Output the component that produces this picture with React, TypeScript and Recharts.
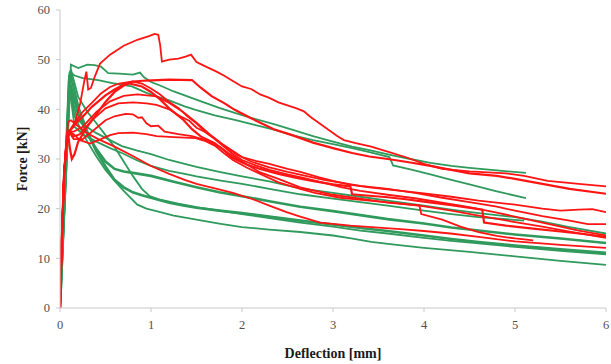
import React from 'react';
import { LineChart, Line, XAxis, YAxis } from 'recharts';

type P = [number, number];

const xTicks = [0, 1, 2, 3, 4, 5, 6];
const yTicks = [0, 10, 20, 30, 40, 50, 60];

const redStart: P[] = [[0, 0], [0.02, 14], [0.045, 27], [0.07, 33], [0.1, 35.5]];

const R1: P[] = [...redStart, [0.15, 36.5], [0.22, 41], [0.27, 46], [0.29, 47.6], [0.31, 44], [0.34, 44.3], [0.38, 46.5], [0.44, 49.2], [0.55, 51], [0.7, 52.8], [0.85, 54], [0.97, 54.7], [1.04, 55.2], [1.08, 55], [1.1, 53], [1.12, 49.6], [1.2, 50], [1.3, 50.2], [1.38, 50.6], [1.44, 51], [1.5, 49.5], [1.58, 48.8], [1.65, 48.2], [1.72, 47.6], [1.8, 46.8], [1.9, 45.7], [2.0, 44.6], [2.1, 44.1], [2.2, 43], [2.3, 42.3], [2.4, 41.4], [2.5, 40.8], [2.6, 40.2], [2.68, 39.6], [2.75, 38.5], [2.85, 37.2], [2.95, 35.9], [3.05, 34.6], [3.12, 33.8], [3.25, 33.2], [3.42, 32.5], [3.6, 31.5], [3.81, 30.3], [4.0, 29], [4.2, 28], [4.5, 27.5], [4.9, 27.1], [5.1, 26.6], [5.36, 25.6], [5.7, 25], [6, 24.5]];

const R2: P[] = [...redStart, [0.15, 36.8], [0.25, 38.5], [0.35, 40.5], [0.5, 42.8], [0.6, 44], [0.7, 45], [0.8, 45.6], [0.95, 45.8], [1.2, 46], [1.45, 45.9], [1.55, 44.3], [1.67, 42.6], [1.8, 41.3], [1.92, 39.9], [2.1, 38.2], [2.35, 36], [2.55, 34.8], [2.78, 33.3], [3.0, 32.2], [3.21, 31.2], [3.4, 30.5], [3.64, 29.9], [3.85, 29.3], [4.07, 28.6], [4.3, 27.8], [4.5, 27.1], [4.8, 26.6], [5.0, 26], [5.3, 25], [5.6, 24], [6, 23]];

const Ra: P[] = [...redStart, [0.15, 37], [0.25, 39.5], [0.35, 41.3], [0.45, 43.2], [0.55, 44.5], [0.65, 45.2], [0.8, 45.6], [0.9, 45.2], [1.0, 44.2], [1.1, 43], [1.2, 41.5], [1.3, 40.3], [1.4, 38.6], [1.5, 37.2], [1.6, 35.4], [1.7, 34.2], [1.8, 32.8], [1.9, 31.6], [2.0, 30.4], [2.15, 29.6], [2.3, 29], [2.5, 28], [2.64, 27.4], [2.85, 26.3], [3.0, 25.6], [3.2, 24.8], [3.4, 24.3], [3.6, 23.9], [3.8, 23.5], [4.0, 23.1], [4.3, 22.4], [4.6, 21.6], [5.0, 20.8], [5.3, 20], [5.5, 19.6], [5.7, 19.8], [5.85, 19.9], [6, 19.3]];

const Rb: P[] = [[0, 0], [0.02, 14], [0.045, 27], [0.07, 33], [0.09, 35], [0.11, 32], [0.13, 30], [0.16, 31], [0.2, 33.5], [0.3, 36.5], [0.4, 39], [0.5, 41.5], [0.6, 43.5], [0.7, 44.8], [0.76, 45.2], [0.9, 44.6], [1.0, 43.5], [1.1, 42], [1.2, 40.2], [1.35, 38], [1.45, 36], [1.55, 34.5], [1.7, 33.2], [1.8, 31.8], [1.9, 30.2], [2.05, 28.9], [2.2, 28], [2.4, 27], [2.6, 26.2], [2.8, 25.5], [3.0, 24.9], [3.19, 24.5], [3.21, 22.9], [3.4, 22.6], [3.6, 22.3], [3.8, 21.9], [4.0, 21.4], [4.3, 20.7], [4.64, 19.8], [4.66, 17.2], [4.9, 16.6], [5.2, 16], [5.5, 15.4], [5.8, 14.8], [6, 14.3]];

const Rc: P[] = [...redStart, [0.15, 35.5], [0.25, 36.5], [0.4, 39.5], [0.55, 41.6], [0.7, 42.7], [0.85, 43], [1.06, 42.6], [1.2, 41.3], [1.35, 39.5], [1.5, 37.3], [1.65, 34.9], [1.8, 32.7], [1.95, 30.8], [2.1, 29.5], [2.3, 28.3], [2.5, 27.4], [2.7, 26.6], [2.9, 25.8], [3.1, 25.2], [3.3, 24.6], [3.6, 24], [3.9, 23.2], [4.2, 22.2], [4.5, 21.3], [4.8, 20.4], [5.0, 19.6], [5.3, 18.5], [5.6, 17.6], [5.8, 16.9], [6, 16.9]];

const Rd: P[] = [...redStart, [0.15, 34.5], [0.22, 35], [0.35, 37.8], [0.5, 40.2], [0.64, 41.2], [0.8, 41.4], [0.95, 41.2], [1.06, 40.9], [1.2, 40], [1.3, 38.8], [1.42, 37.7], [1.5, 36.3], [1.6, 35.4], [1.7, 34], [1.8, 32.5], [1.9, 31], [2.0, 29.8], [2.15, 28.7], [2.3, 27.8], [2.5, 26.9], [2.7, 26.1], [2.9, 25.2], [3.1, 24.3], [3.3, 23.6], [3.6, 22.8], [3.9, 22.1], [4.2, 21.2], [4.5, 20.3], [4.8, 19.2], [5.1, 18], [5.4, 16.8], [5.7, 15.6], [6, 14.6]];

const Re: P[] = [...redStart, [0.15, 34], [0.25, 34], [0.35, 35.5], [0.5, 37.8], [0.6, 38.6], [0.72, 39.1], [0.8, 39], [0.86, 38.3], [0.9, 38.4], [0.95, 37.2], [1.0, 36.6], [1.08, 36.7], [1.15, 35.5], [1.3, 35], [1.45, 34.6], [1.6, 33.8], [1.75, 32.5], [1.85, 31.2], [2.0, 29.5], [2.2, 27.3], [2.4, 26], [2.64, 24.3], [3.0, 22.8], [3.3, 22], [3.6, 21.2], [3.95, 20.6], [4.3, 19.6], [4.6, 18.6], [5.0, 17.3], [5.3, 16.4], [5.6, 15.4], [6, 14.1]];

const Rlow: P[] = [...redStart, [0.15, 35], [0.22, 33.8], [0.33, 33.1], [0.45, 34], [0.55, 34.8], [0.64, 35.2], [0.8, 35.3], [0.95, 35], [1.06, 34.6], [1.25, 34.4], [1.49, 34.2], [1.6, 33.6], [1.7, 32.7], [1.8, 31.2], [1.9, 29.8], [2.05, 28.3], [2.2, 27], [2.4, 25.3], [2.64, 24], [2.8, 23.2], [3.08, 22.2], [3.4, 21.6], [3.7, 21.1], [3.95, 20.6], [3.97, 18.9], [4.2, 17.8], [4.4, 16.4], [4.6, 15.3], [4.8, 14.5], [5.0, 14], [5.2, 13.6]];

const Rdesc: P[] = [[0, 0], [0.02, 14], [0.045, 27], [0.07, 34], [0.09, 37.5], [0.12, 37.8], [0.2, 36.6], [0.3, 35.2], [0.42, 34], [0.6, 32.5], [0.8, 30.6], [1.0, 28.6], [1.2, 27], [1.37, 25.8], [1.5, 25], [1.68, 24.2], [1.9, 23.2], [2.12, 21.9], [2.3, 20.6], [2.49, 19.3], [2.64, 18.4], [2.86, 17.2], [3.19, 16.6], [3.5, 16.2], [3.74, 15.9], [4.0, 15.5], [4.29, 15], [4.6, 14.3], [5.0, 13.4], [5.5, 12.7], [6, 12.1]];

const G1: P[] = [[0, 0], [0.12, 49], [0.2, 48.3], [0.3, 49], [0.38, 48.9], [0.45, 48.6], [0.53, 47.3], [0.65, 47.2], [0.8, 47], [0.88, 47.4], [0.92, 46.5], [1.0, 45.5], [1.1, 44.8], [1.25, 43.6], [1.4, 42.6], [1.55, 41.6], [1.75, 40.3], [1.92, 39.3], [2.1, 38.3], [2.35, 37], [2.55, 35.9], [2.78, 34.6], [3.0, 33.5], [3.21, 32.5], [3.4, 31.8], [3.64, 30.8], [3.85, 30], [4.07, 29.2], [4.3, 28.6], [4.5, 28.2], [4.8, 27.7], [5.12, 27.2]];

const G2: P[] = [[0, 0], [0.11, 47.5], [0.16, 46.8], [0.25, 46.3], [0.42, 45.9], [0.6, 45.2], [0.79, 44.6], [0.95, 43.3], [1.06, 42.6], [1.2, 41.8], [1.37, 40.6], [1.49, 39.9], [1.7, 38.8], [1.92, 37.9], [2.15, 36.8], [2.35, 35.9], [2.55, 34.8], [2.78, 33.8], [3.0, 33], [3.21, 32.2], [3.4, 31.4], [3.62, 30.4], [3.66, 28.7], [3.85, 27.9], [4.07, 26.9], [4.3, 25.8], [4.5, 24.9], [4.8, 23.5], [5.12, 22.1]];

const G3: P[] = [[0, 0], [0.1, 47], [0.13, 42], [0.16, 38.5], [0.25, 37], [0.4, 35.2], [0.55, 33.8], [0.68, 32.6], [0.85, 31.7], [1, 31], [1.2, 29.8], [1.37, 29], [1.5, 28.4], [1.75, 27.4], [2, 26.5], [2.3, 25.5], [2.64, 24.1], [3, 23.2], [3.3, 22.4], [3.6, 21.6], [4, 20.6], [4.3, 19.8], [4.6, 19.1], [5, 18.3], [5.3, 17.4], [5.6, 16.3], [6, 15]];

const G4: P[] = [[0, 0], [0.1, 45], [0.16, 36.5], [0.25, 35], [0.4, 33.5], [0.55, 32.2], [0.68, 31.2], [0.85, 29.7], [1, 28.6], [1.2, 27.6], [1.37, 27], [1.5, 26.5], [1.75, 25.7], [2, 25], [2.3, 24], [2.64, 22.9], [3, 22], [3.3, 21.3], [3.6, 20.6], [4, 19.6], [4.3, 18.9], [4.6, 18.3], [5.1, 17.6]];

const G5: P[] = [[0, 0], [0.1, 46], [0.2, 39], [0.3, 35], [0.4, 32], [0.5, 29.5], [0.6, 28], [0.7, 27.5], [0.8, 27.2], [1, 26.6], [1.25, 25.4], [1.5, 24.3], [1.75, 23.3], [2, 22.5], [2.3, 21.5], [2.64, 20.4], [3, 19.5], [3.3, 18.7], [3.6, 17.9], [4, 17], [4.3, 16.2], [4.6, 15.6], [5, 14.8], [5.5, 14], [6, 13.1]];

const G6: P[] = [[0, 0], [0.11, 47.5], [0.2, 40.5], [0.3, 35.5], [0.4, 31.5], [0.5, 28.5], [0.6, 25.8], [0.7, 24.3], [0.8, 23.3], [0.9, 22.7], [1, 22.2], [1.2, 21.2], [1.37, 20.6], [1.5, 20.2], [1.75, 19.6], [2, 19.1], [2.3, 18.4], [2.64, 17.6], [3, 16.8], [3.3, 16.1], [3.6, 15.5], [4, 14.6], [4.3, 13.9], [4.6, 13.3], [5, 12.6], [5.5, 11.8], [6, 11.1]];

const G7: P[] = [[0, 0], [0.12, 48], [0.2, 42.5], [0.3, 39.5], [0.4, 37.2], [0.5, 34.8], [0.6, 32.4], [0.7, 29.5], [0.8, 26.6], [0.9, 24], [0.98, 22.6], [1.1, 21.8], [1.3, 21], [1.5, 20.3], [1.75, 19.6], [2, 18.9], [2.3, 18.1], [2.64, 17.2], [3, 16.4], [3.3, 15.6], [3.6, 15], [4, 14.1], [4.3, 13.5], [4.6, 13], [5, 12.3], [5.5, 11.5], [6, 10.8]];

const G8: P[] = [[0, 0], [0.1, 46], [0.15, 41], [0.2, 37], [0.3, 33.5], [0.4, 30.5], [0.5, 27.8], [0.6, 25.6], [0.7, 23.6], [0.85, 20.8], [0.95, 20], [1.06, 19.5], [1.25, 18.6], [1.5, 17.8], [1.75, 17], [2, 16.3], [2.3, 15.8], [2.64, 15.3], [3, 14.6], [3.2, 14], [3.42, 13.3], [3.7, 12.7], [4, 12.1], [4.5, 11.3], [5, 10.4], [5.5, 9.5], [6, 8.7]];

const greenSeries: { name: string; pts: P[]; w: number }[] = [
  { name: 'G1', pts: G1, w: 1.8 },
  { name: 'G2', pts: G2, w: 1.8 },
  { name: 'G3', pts: G3, w: 1.8 },
  { name: 'G4', pts: G4, w: 1.8 },
  { name: 'G5', pts: G5, w: 2.6 },
  { name: 'G6', pts: G6, w: 2.6 },
  { name: 'G7', pts: G7, w: 1.8 },
  { name: 'G8', pts: G8, w: 1.8 },
];

const redSeries: { name: string; pts: P[]; w: number }[] = [
  { name: 'R1', pts: R1, w: 1.8 },
  { name: 'R2', pts: R2, w: 2.2 },
  { name: 'Ra', pts: Ra, w: 1.8 },
  { name: 'Rb', pts: Rb, w: 2.2 },
  { name: 'Rc', pts: Rc, w: 1.8 },
  { name: 'Rd', pts: Rd, w: 1.8 },
  { name: 'Re', pts: Re, w: 1.8 },
  { name: 'Rlow', pts: Rlow, w: 1.8 },
  { name: 'Rdesc', pts: Rdesc, w: 1.8 },
];

const GREEN = '#2f9a5c';
const RED = '#ff1414';
const FONT = '"Liberation Serif", "Times New Roman", serif';

const toData = (pts: P[]) => pts.map(([x, y]) => ({ x, y }));

export default function App() {
  return (
    <div style={{ position: 'absolute', left: 0, top: 0, background: '#fff' }}>
      <LineChart width={611} height={364} margin={{ top: 10, right: 5, left: 0, bottom: 0 }}>
        <XAxis
          type="number"
          dataKey="x"
          domain={[0, 6]}
          ticks={xTicks}
          allowDataOverflow
          height={56}
          stroke="#c8c8c8"
          tickSize={4}
          tickMargin={8}
          tick={{ fill: '#505050', fontSize: 12.5, fontFamily: FONT }}
          label={{ value: 'Deflection [mm]', position: 'insideBottom', offset: 6, style: { fill: '#1a1a1a', fontSize: 14, fontWeight: 'bold', fontFamily: FONT } }}
        />
        <YAxis
          type="number"
          dataKey="y"
          domain={[0, 60]}
          ticks={yTicks}
          width={60}
          stroke="#c8c8c8"
          tickSize={4}
          tickMargin={6}
          tick={{ fill: '#505050', fontSize: 12.5, fontFamily: FONT }}
          label={{ value: 'Force [kN]', angle: -90, position: 'insideLeft', offset: 22, style: { textAnchor: 'middle', fill: '#1a1a1a', fontSize: 14, fontWeight: 'bold', fontFamily: FONT } }}
        />
        {greenSeries.map((s) => (
          <Line key={s.name} data={toData(s.pts)} dataKey="y" type="linear" stroke={GREEN} strokeWidth={s.w} dot={false} activeDot={false} isAnimationActive={false} />
        ))}
        {redSeries.map((s) => (
          <Line key={s.name} data={toData(s.pts)} dataKey="y" type="linear" stroke={RED} strokeWidth={s.w} dot={false} activeDot={false} isAnimationActive={false} />
        ))}
      </LineChart>
    </div>
  );
}
